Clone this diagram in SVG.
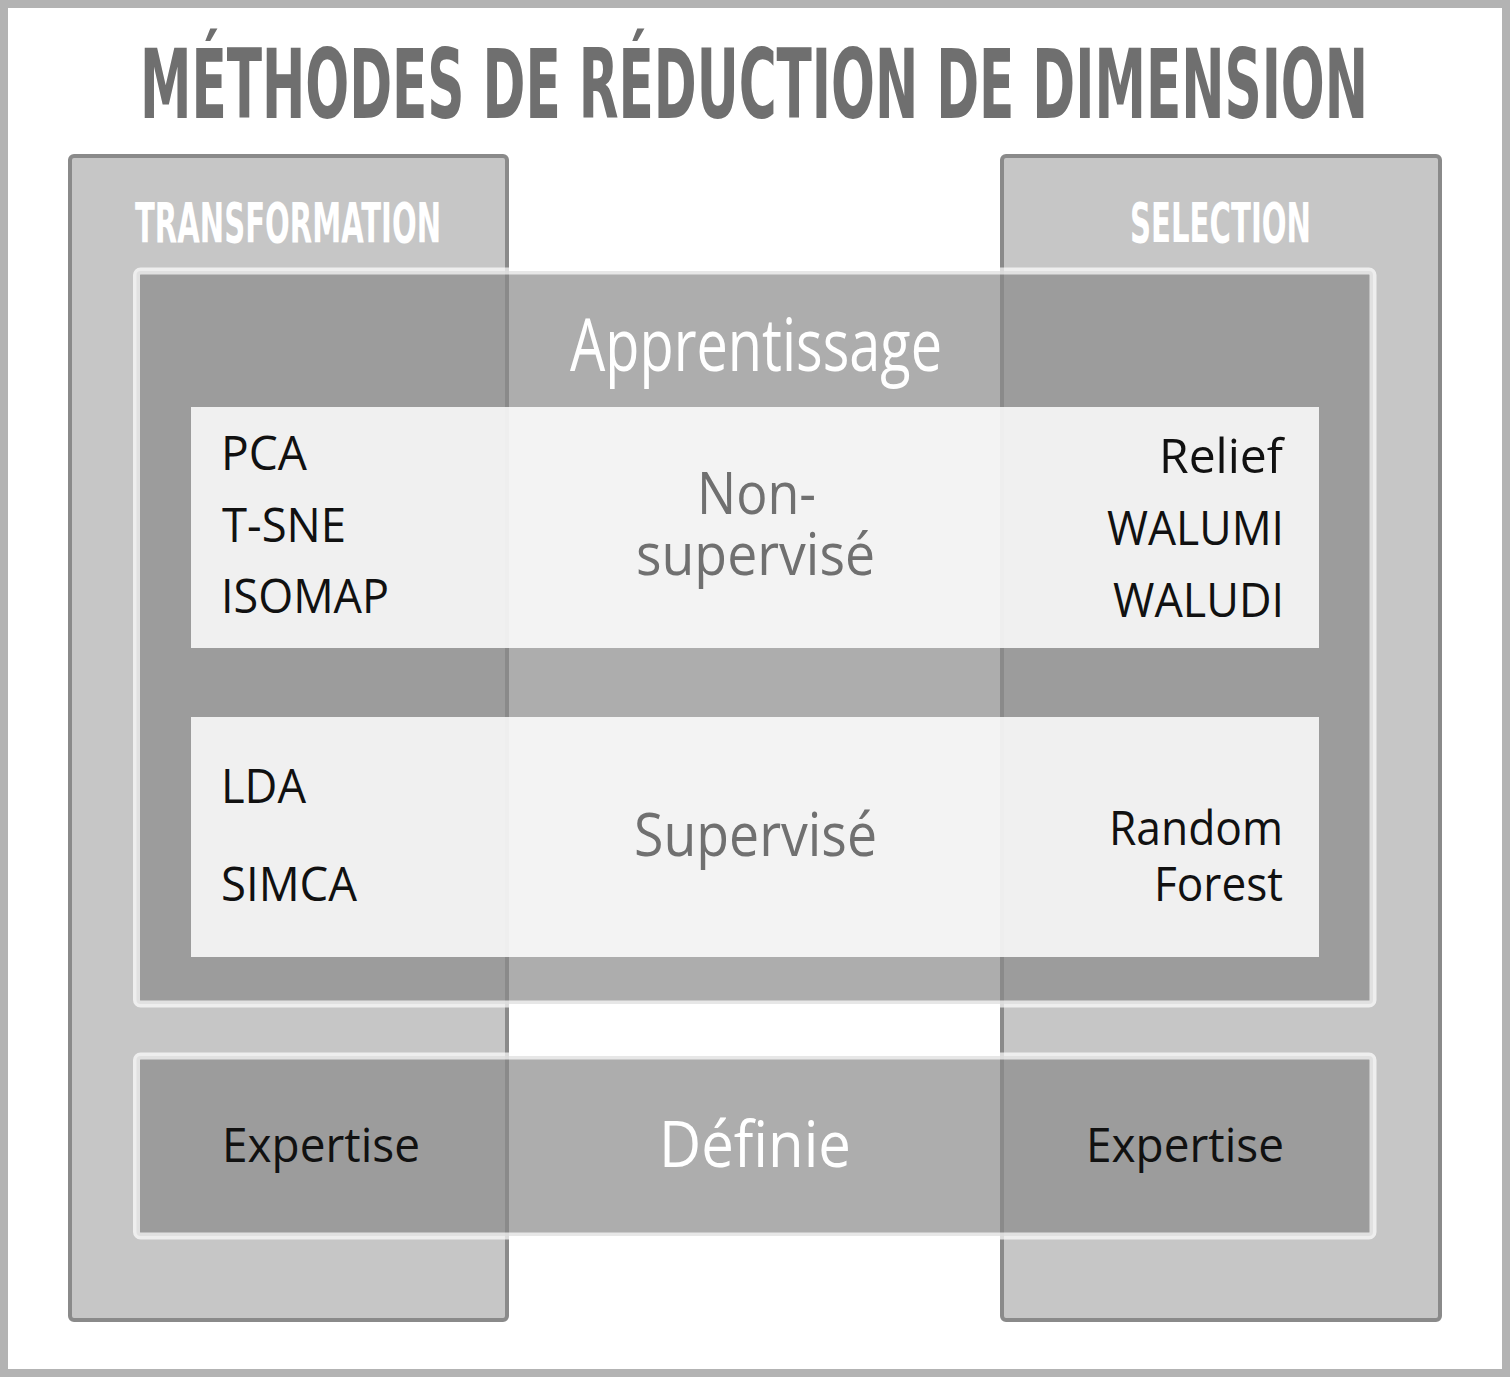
<svg xmlns="http://www.w3.org/2000/svg" width="1510" height="1377" viewBox="0 0 1510 1377">
<style>
.col{fill:#c6c6c6;stroke:#8a8a8a;stroke-width:4}
.band{fill:#8a8a8a;fill-opacity:0.7;stroke:#ffffff;stroke-opacity:0.7;stroke-width:7}
.panel{fill:#ffffff;fill-opacity:0.85}
.title{font-family:"Liberation Sans Narrow","DejaVu Sans Condensed","Liberation Sans",sans-serif;font-weight:700}
.t{font-family:"Open Sans","Noto Sans","Liberation Sans",sans-serif}
.item{fill:#111111;font-size:48px}
</style>
<rect x="4" y="4" width="1502" height="1369" fill="#ffffff" stroke="#b3b3b3" stroke-width="8"/>
<text class="title" x="140" y="118" font-size="96" fill="#6f6f6f" textLength="1228" lengthAdjust="spacingAndGlyphs">MÉTHODES DE RÉDUCTION DE DIMENSION</text>
<g id="transformation">
<rect class="col" x="70" y="156" width="437" height="1164" rx="4"/>
<text class="title" x="135" y="242" font-size="55" fill="#ffffff" textLength="306" lengthAdjust="spacingAndGlyphs">TRANSFORMATION</text>
</g>
<g id="selection">
<rect class="col" x="1002" y="156" width="438" height="1164" rx="4"/>
<text class="title" x="1130" y="242" font-size="55" fill="#ffffff" textLength="181" lengthAdjust="spacingAndGlyphs">SELECTION</text>
</g>
<g id="apprentissage">
<rect class="band" x="136.5" y="271" width="1236.5" height="733" rx="4"/>
<text class="t" x="570" y="371" font-size="74" fill="#ffffff" textLength="372" lengthAdjust="spacingAndGlyphs">Apprentissage</text>
</g>
<g id="non-supervise">
<rect class="panel" x="191" y="407" width="1128" height="241"/>
<text class="t" x="697" y="514" font-size="59" fill="#707070" textLength="119" lengthAdjust="spacingAndGlyphs">Non-</text>
<text class="t" x="636" y="575" font-size="59" fill="#707070" textLength="239" lengthAdjust="spacingAndGlyphs">supervisé</text>
<text class="t item" x="221" y="470" textLength="86" lengthAdjust="spacingAndGlyphs">PCA</text>
<text class="t item" x="222" y="541.7" textLength="124" lengthAdjust="spacingAndGlyphs">T-SNE</text>
<text class="t item" x="221" y="613.3" textLength="168" lengthAdjust="spacingAndGlyphs">ISOMAP</text>
<text class="t item" x="1159" y="472.7" textLength="124" lengthAdjust="spacingAndGlyphs">Relief</text>
<text class="t item" x="1107" y="545" textLength="177" lengthAdjust="spacingAndGlyphs">WALUMI</text>
<text class="t item" x="1113" y="616.7" textLength="171" lengthAdjust="spacingAndGlyphs">WALUDI</text>
</g>
<g id="supervise">
<rect class="panel" x="191" y="717" width="1128" height="240"/>
<text class="t" x="634" y="856" font-size="61" fill="#707070" textLength="243" lengthAdjust="spacingAndGlyphs">Supervisé</text>
<text class="t item" x="221" y="803.3" textLength="85" lengthAdjust="spacingAndGlyphs">LDA</text>
<text class="t item" x="221" y="900.7" textLength="136" lengthAdjust="spacingAndGlyphs">SIMCA</text>
<text class="t item" x="1109" y="845" textLength="174" lengthAdjust="spacingAndGlyphs">Random</text>
<text class="t item" x="1154" y="901" textLength="129" lengthAdjust="spacingAndGlyphs">Forest</text>
</g>
<g id="definie">
<rect class="band" x="136.5" y="1056" width="1236.5" height="180" rx="4"/>
<text class="t" x="659" y="1167" font-size="64" fill="#ffffff" textLength="192" lengthAdjust="spacingAndGlyphs">Définie</text>
<text class="t item" x="222" y="1162" textLength="198" lengthAdjust="spacingAndGlyphs">Expertise</text>
<text class="t item" x="1086" y="1162" textLength="198" lengthAdjust="spacingAndGlyphs">Expertise</text>
</g>
<g id="connectors"/>
</svg>
